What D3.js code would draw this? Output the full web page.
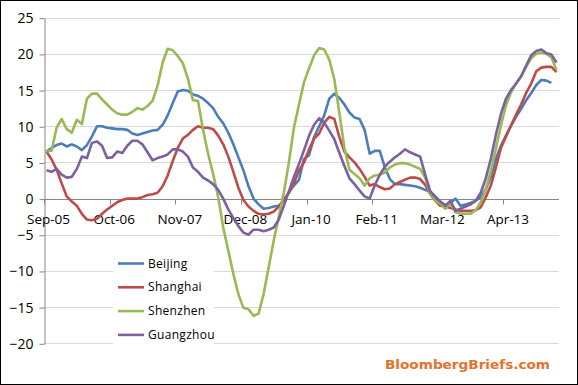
<!DOCTYPE html>
<html>
<head>
<meta charset="utf-8">
<script src="https://cdn.jsdelivr.net/npm/d3@7"></script>
<style>
  body { margin: 0; background: #fff; }
  text { font-family: "Open Sans", sans-serif; }
</style>
</head>
<body>
<div id="chart"></div>
<script>
// monthly values, Sep-05 .. Feb-14
var beijing = [6.5, 7.0, 7.4, 7.6, 7.2, 7.5, 7.2, 6.7, 7.4, 8.6, 10.0, 10.0, 9.8, 9.7, 9.6, 9.6, 9.5, 9.0, 8.8, 9.0,
  9.2, 9.4, 9.5, 10.2, 11.5, 13.2, 14.8, 15.0, 14.9, 14.4, 14.2, 13.8, 13.2, 12.5, 11.3, 10.4, 9.1, 7.5, 5.7, 3.9,
  1.7, 0.0, -0.8, -1.4, -1.3, -1.1, -1.0, -0.3, 0.9, 1.8, 2.6, 5.5, 6.0, 8.5, 10.0, 11.5, 13.8, 14.5, 13.9, 13.0,
  11.9, 11.2, 11.0, 9.5, 6.2, 6.6, 6.6, 4.3, 2.7, 2.0, 2.0, 1.9, 1.8, 1.7, 1.5, 1.2, 1.0, 0.3, -0.5, -0.9,
  -0.6, 0.0, -1.0, -0.8, -0.6, -0.3, 0.2, 1.3, 3.0, 5.5, 7.3, 8.7, 10.1, 11.3, 12.4, 13.6, 14.6, 15.7, 16.4, 16.3,
  16.0, null];
var shanghai = [6.5, 5.4, 4.0, 2.1, 0.3, -0.4, -1.0, -2.1, -2.9, -3.0, -2.8, -2.1, -1.5, -1.0, -0.5, -0.2, 0.0, 0.0, 0.0, 0.2,
  0.5, 0.6, 0.8, 1.7, 3.2, 5.2, 7.0, 8.3, 8.8, 9.5, 10.0, 9.8, 9.8, 9.6, 8.7, 7.5, 5.8, 3.7, 1.5, -0.2,
  -1.1, -1.7, -2.1, -2.2, -2.1, -1.8, -1.1, -0.2, 0.8, 2.1, 3.9, 5.0, 6.8, 8.3, 9.0, 10.5, 11.3, 11.0, 8.5, 6.5,
  5.7, 5.0, 4.1, 3.0, 1.8, 2.0, 1.6, 1.3, 1.4, 2.0, 2.3, 2.6, 2.9, 2.9, 2.7, 1.9, 0.6, -0.3, -1.0, -1.1,
  -1.3, -1.5, -1.7, -1.7, -1.7, -1.6, -1.2, 0.2, 1.8, 4.3, 7.0, 8.6, 10.1, 11.6, 13.0, 14.6, 15.9, 17.6, 18.1, 18.2,
  18.2, 17.5];
var shenzhen = [6.5, 6.6, 9.8, 11.0, 9.6, 9.1, 10.9, 10.3, 13.8, 14.5, 14.5, 13.7, 13.0, 12.3, 11.8, 11.6, 11.6, 12.0, 12.5, 12.3,
  12.8, 13.5, 15.6, 18.8, 20.7, 20.5, 19.7, 18.7, 16.6, 13.6, 13.5, 9.5, 6.2, 3.4, 0.2, -4.0, -7.2, -10.4, -13.2, -15.1,
  -15.3, -16.2, -15.9, -13.2, -9.5, -5.8, -2.5, 0.8, 5.0, 9.8, 13.0, 16.1, 18.0, 19.8, 20.8, 20.6, 19.2, 16.5, 11.8, 7.0,
  4.0, 3.4, 2.8, 1.8, 2.8, 3.2, 3.3, 3.6, 4.3, 4.7, 4.9, 4.9, 4.7, 4.4, 4.1, 2.9, 0.6, -0.3, -0.7, -1.4,
  -0.6, -1.9, -2.1, -2.1, -2.1, -1.6, -0.5, 1.3, 3.8, 6.9, 10.1, 12.9, 14.7, 15.9, 16.9, 18.2, 19.4, 20.0, 20.2, 20.0,
  19.5, 17.8];
var guangzhou = [3.9, 3.7, 4.1, 3.3, 2.9, 3.0, 4.1, 5.8, 5.6, 7.7, 7.9, 7.3, 5.6, 5.7, 6.5, 6.3, 7.3, 8.0, 8.0, 7.5,
  6.4, 5.3, 5.6, 5.8, 6.1, 6.8, 6.8, 6.5, 5.8, 4.3, 3.7, 2.9, 2.5, 2.0, 1.2, 0.0, -1.5, -2.7, -3.8, -4.7,
  -5.0, -4.3, -4.3, -4.5, -4.3, -4.0, -2.9, -1.0, 1.0, 3.0, 4.8, 6.7, 8.7, 10.2, 11.1, 10.5, 9.4, 8.2, 6.3, 4.5,
  2.8, 2.0, 1.1, 0.3, 0.0, 1.8, 3.3, 4.4, 5.1, 5.7, 6.2, 6.8, 6.4, 6.1, 5.8, 3.3, 1.0, 0.2, -0.4, -1.0,
  -0.3, -1.7, -1.4, -1.1, -0.8, -0.3, 0.8, 2.8, 5.5, 8.8, 11.7, 13.8, 15.0, 15.9, 16.9, 18.4, 19.8, 20.4, 20.6, 20.1,
  19.9, 18.8];

var seriesNames = ["Beijing", "Shanghai", "Shenzhen", "Guangzhou"];
var seriesColors = ["#4a7ebb", "#be4b48", "#98b954", "#7d60a0"];
var tickLabels = ["Sep-05", "Oct-06", "Nov-07", "Dec-08", "Jan-10", "Feb-11", "Mar-12", "Apr-13"];
var yTicks = [-20, -15, -10, -5, 0, 5, 10, 15, 20, 25];

var months = d3.timeMonth.range(new Date(2005, 8, 1), new Date(2014, 2, 1));
var fmt = d3.timeFormat("%b-%y");
var cats = months.map(fmt);

var W = 578, H = 385;
var svg = d3.select("#chart").append("svg")
  .attr("width", W)
  .attr("height", H);

svg.append("rect")
  .attr("x", 0.5).attr("y", 0.5)
  .attr("width", W - 1).attr("height", H - 1)
  .attr("fill", "#fff")
  .attr("stroke", "#000");

var x = d3.scaleBand().domain(cats).range([44, 559]);
var y = d3.scaleLinear().domain([-20, 25]).range([343.3, 17.7]);
var bw = x.bandwidth();

// gridlines
svg.append("g")
  .selectAll("line")
  .data(yTicks.filter(function(d) { return d != 0; }))
  .enter().append("line")
    .attr("x1", 44).attr("x2", 559)
    .attr("y1", function(d) { return Math.round(y(d)) + 0.5; })
    .attr("y2", function(d) { return Math.round(y(d)) + 0.5; })
    .attr("stroke", "#d9d9d9");

// Y axis
var yAxis = svg.append("g")
  .attr("transform", "translate(44.5,0.5)")
  .call(d3.axisLeft(y).tickValues(yTicks).tickSize(5).tickSizeOuter(0).tickPadding(6));
yAxis.selectAll("path, line").attr("stroke", "#868686");
yAxis.selectAll("text").style("font-size", "14px").attr("fill", "#000");

// X axis along zero
var y0 = Math.round(y(0)) + 0.5;
var xAxis = svg.append("g")
  .attr("transform", "translate(2," + y0 + ")")
  .call(d3.axisBottom(x).tickValues(tickLabels).tickSize(0).tickPadding(15));
xAxis.select(".domain").remove();
xAxis.selectAll("text").style("font-size", "13.5px").attr("fill", "#000");

svg.append("line")
  .attr("x1", 44).attr("x2", 559)
  .attr("y1", y0).attr("y2", y0)
  .attr("stroke", "#868686");
svg.append("g")
  .selectAll("line")
  .data(tickLabels)
  .enter().append("line")
    .attr("x1", function(d) { return Math.round(x(d)) + 0.5; })
    .attr("x2", function(d) { return Math.round(x(d)) + 0.5; })
    .attr("y1", y0).attr("y2", y0 + 5)
    .attr("stroke", "#868686");

// lines
var line = d3.line()
  .defined(function(d) { return d != null; })
  .x(function(d, i) { return x(cats[i]) + bw / 2; })
  .y(function(d) { return y(d); });

[beijing, shanghai, shenzhen, guangzhou].forEach(function(s, k) {
  svg.append("path")
    .datum(s)
    .attr("fill", "none")
    .attr("stroke", seriesColors[k])
    .attr("stroke-width", 2.6)
    .attr("stroke-linejoin", "round")
    .attr("d", line);
});

// legend
var legend = svg.append("g");
legend.append("rect")
  .attr("x", 113).attr("y", 249)
  .attr("width", 101).attr("height", 97)
  .attr("fill", "#fff");
seriesNames.forEach(function(name, k) {
  var ly = 263.5 + k * 23.8;
  legend.append("line")
    .attr("x1", 118).attr("x2", 144)
    .attr("y1", ly).attr("y2", ly)
    .attr("stroke", seriesColors[k])
    .attr("stroke-width", 2.6);
  legend.append("text")
    .attr("x", 148).attr("y", ly + 4)
    .style("font-size", "12px")
    .style("letter-spacing", "0.3px")
    .attr("fill", "#000")
    .text(name);
});

svg.append("text")
  .attr("x", 385).attr("y", 369)
  .attr("textLength", 165)
  .attr("lengthAdjust", "spacingAndGlyphs")
  .style("font-family", "DejaVu Sans")
  .style("font-weight", "bold")
  .style("font-size", "12px")
  .attr("fill", "#e8702a")
  .text("BloombergBriefs.com");
</script>
</body>
</html>
